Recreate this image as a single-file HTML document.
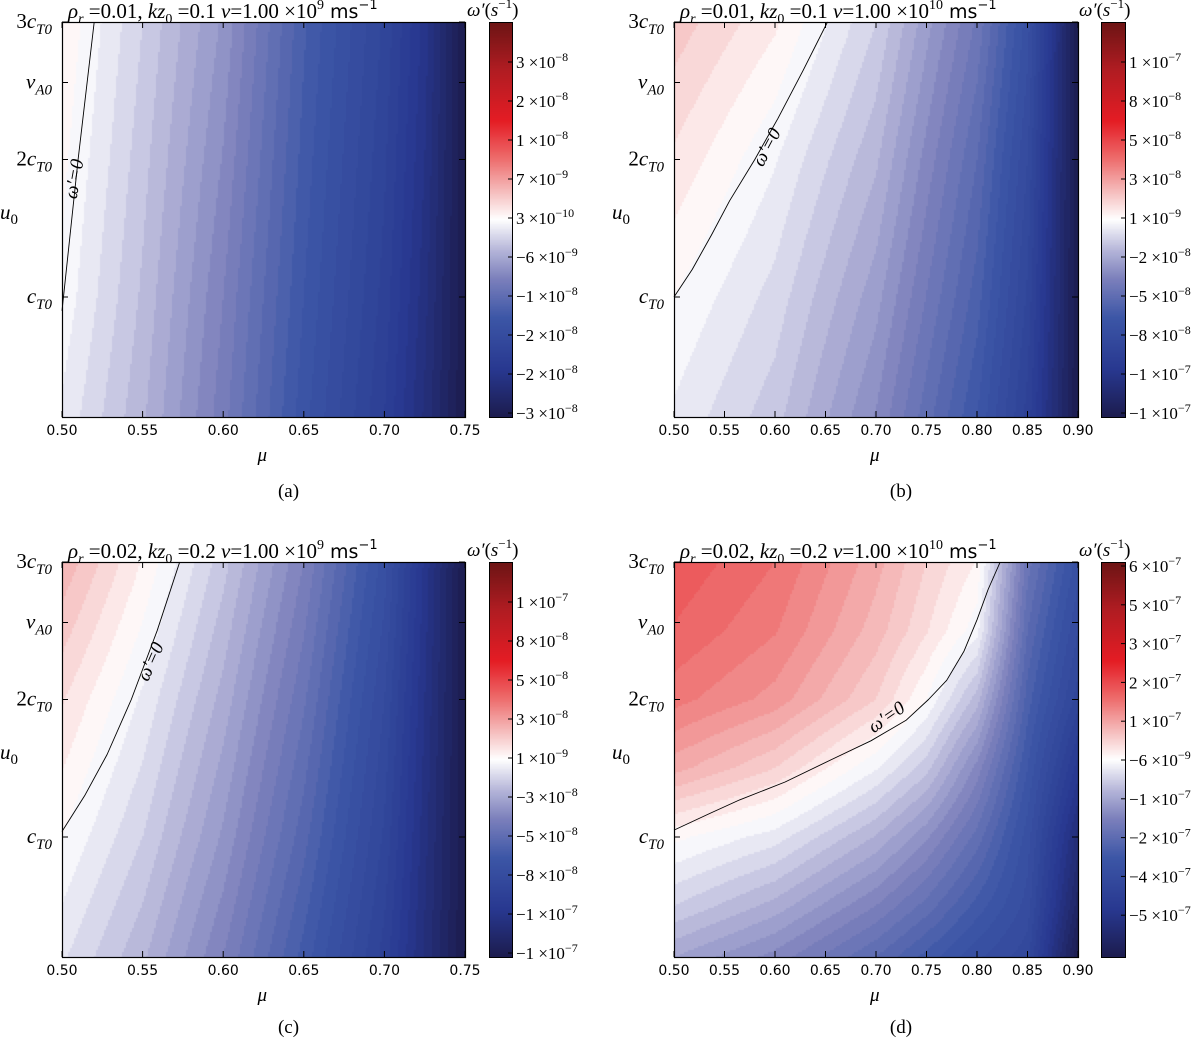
<!DOCTYPE html>
<html><head><meta charset="utf-8">
<style>
html,body{margin:0;padding:0;background:#fff;}
#wrap{position:relative;width:1200px;height:1038px;overflow:hidden;}
canvas{position:absolute;}
svg{position:absolute;left:0;top:0;}
.tk{font-family:"DejaVu Sans","Liberation Sans",sans-serif;font-size:14px;fill:#000;}
.sr{font-family:"Liberation Serif","DejaVu Serif",serif;fill:#000;}
</style></head>
<body>
<div id="wrap">
<svg id="ov" width="1200" height="1038"></svg>
</div>
<script>
// ---------- data ----------
const uRows4 = [3, 2, 1, 0.127];
const uRows7 = [3, 2.5, 2, 1.5, 1, 0.5, 0.127];
const muColsA = [0.50, 0.55, 0.60, 0.65, 0.70, 0.725, 0.75];
const fieldA = [
  [0.03, -0.10, -0.24, -0.46, -0.64, -0.78, -1],
  [0.01, -0.12, -0.27, -0.48, -0.66, -0.80, -1],
  [-0.01, -0.14, -0.30, -0.50, -0.68, -0.82, -1],
  [-0.04, -0.16, -0.32, -0.52, -0.70, -0.84, -1]];
const muColsB = [0.50, 0.60, 0.70, 0.80, 0.85, 0.90];
const fieldB = [
  [0.12, 0.04, -0.10, -0.34, -0.55, -1],
  [0.06, -0.03, -0.16, -0.40, -0.60, -1],
  [0.00, -0.08, -0.22, -0.45, -0.64, -1],
  [-0.04, -0.12, -0.27, -0.50, -0.68, -1]];
const muColsC = [0.50, 0.55, 0.60, 0.65, 0.70, 0.75];
const fieldC = [
  [0.16, 0.03, -0.12, -0.30, -0.55, -1],
  [0.07, -0.04, -0.18, -0.36, -0.60, -1],
  [0.00, -0.10, -0.24, -0.42, -0.64, -1],
  [-0.06, -0.16, -0.30, -0.48, -0.68, -1]];
const muColsD = [0.50, 0.60, 0.70, 0.75, 0.80, 0.85, 0.90];
const fieldD = [
  [0.36, 0.30, 0.18, 0.10, 0.03, -0.35, -0.55],
  [0.33, 0.27, 0.15, 0.07, -0.02, -0.40, -0.60],
  [0.28, 0.22, 0.10, 0.00, -0.15, -0.45, -0.65],
  [0.18, 0.10, -0.03, -0.12, -0.28, -0.50, -0.75],
  [0.01, -0.05, -0.17, -0.26, -0.38, -0.55, -0.85],
  [-0.10, -0.18, -0.30, -0.38, -0.48, -0.58, -0.92],
  [-0.20, -0.28, -0.40, -0.48, -0.56, -0.62, -1]];
const zeroUA = [0.9, 2, 3];      const zeroMuA = [0.50, 0.51, 0.52];
const zeroUB = [1, 1.2, 1.45, 1.7, 2.0, 2.3, 2.65, 3]; const zeroMuB = [0.50, 0.518, 0.537, 0.555, 0.58, 0.603, 0.628, 0.652];
const zeroUC = [1.04, 1.3, 1.6, 2.0, 2.5, 3];    const zeroMuC = [0.50, 0.514, 0.528, 0.543, 0.559, 0.573];
const zeroUD = [1.05, 1.17, 1.27, 1.4, 1.56, 1.7, 1.85, 2.0, 2.14, 2.35, 2.58, 2.8, 3]; const zeroMuD = [0.50, 0.535, 0.565, 0.61, 0.655, 0.695, 0.73, 0.752, 0.77, 0.787, 0.80, 0.811, 0.823];
const xTicksA = [0.50, 0.55, 0.60, 0.65, 0.70, 0.75];
const xTicksB = [0.50, 0.55, 0.60, 0.65, 0.70, 0.75, 0.80, 0.85, 0.90];
const yTickU = [3, 2.56, 2, 1];
const yTickLab = [["3c","T0"],["v","A0"],["2c","T0"],["c","T0"]];
const cbA = [["3","−8"],["2","−8"],["1","−8"],["7","−9"],["3","−10"],["−6","−9"],["−1","−8"],["−2","−8"],["−2","−8"],["−3","−8"]];
const cbB = [["1","−7"],["8","−8"],["5","−8"],["3","−8"],["1","−9"],["−2","−8"],["−5","−8"],["−8","−8"],["−1","−7"],["−1","−7"]];
const cbC = [["1","−7"],["8","−8"],["5","−8"],["3","−8"],["1","−9"],["−3","−8"],["−5","−8"],["−8","−8"],["−1","−7"],["−1","−7"]];
const cbD = [["6","−7"],["5","−7"],["3","−7"],["2","−7"],["1","−7"],["−6","−9"],["−1","−7"],["−2","−7"],["−4","−7"],["−5","−7"]];

// ---------- colormap ----------
const cmT = [0, 0.12, 0.25, 0.35, 0.42, 0.5, 0.58, 0.65, 0.75, 0.88, 1];
const cmC = ["#1c1c4e","#283890","#3c56a6","#7c80bc","#b4b4d8","#ffffff","#f4b4b4","#ee7070","#e41c24","#b01c22","#6c1414"];
function hx(c){return [parseInt(c.substr(1,2),16),parseInt(c.substr(3,2),16),parseInt(c.substr(5,2),16)];}
function cmap(t){
  t=Math.max(0,Math.min(1,t));
  for(let i=0;i<cmT.length-1;i++){
    if(t<=cmT[i+1]){const f=(t-cmT[i])/(cmT[i+1]-cmT[i]);const a=hx(cmC[i]),b=hx(cmC[i+1]);
      return `rgb(${Math.round(a[0]+(b[0]-a[0])*f)},${Math.round(a[1]+(b[1]-a[1])*f)},${Math.round(a[2]+(b[2]-a[2])*f)})`;}
  }
  return cmC[cmC.length-1];
}
const NS="http://www.w3.org/2000/svg";
const ov=document.getElementById('ov');
const wrap=document.getElementById('wrap');
function mk(tag,attrs,parent){const e=document.createElementNS(NS,tag);for(const k in attrs)e.setAttribute(k,attrs[k]);(parent||ov).appendChild(e);return e;}

function interp1(xs,ys,x){
  if(x<=xs[0])return ys[0];
  for(let i=0;i<xs.length-1;i++){if(x<=xs[i+1]){const f=(x-xs[i])/(xs[i+1]-xs[i]);return ys[i]+(ys[i+1]-ys[i])*f;}}
  return ys[ys.length-1];
}
function fieldVal(rows,cols,field,mu,u){
  let r=0; while(r<rows.length-2 && u<rows[r+1]) r++;
  const f=(rows[r]-u)/(rows[r]-rows[r+1]);
  const a=interp1(cols,field[r],mu), b=interp1(cols,field[r+1],mu);
  return a+(b-a)*Math.max(0,Math.min(1,f));
}

function panel(cfg){
  const {x0,y0,w,h,mu0,mu1,rows,cols,field,zu,zmu,xt,cbx,cbw,cbl,cbStart,cbStep,title,sup,labx,laby,rot,capy,id}=cfg;
  const X=mu=>x0+(mu-mu0)/(mu1-mu0)*w;
  const Y=u=>y0+(3-u)*137.5;
  const g=mk('g',{});
  
  
  const cv=document.createElement('canvas');
  cv.width=w;cv.height=h;cv.style.left=x0+'px';cv.style.top=y0+'px';
  
  
  wrap.insertBefore(cv,ov);
  const ctx=cv.getContext('2d');
  const N=30;
  for(let py=0;py<h;py+=2){
    const u=3-(py+1)/137.5;
    for(let px=0;px<w;px+=2){
      const mu=mu0+(px+1)/w*(mu1-mu0);
      const v=fieldVal(rows,cols,field,mu,u);
      const q=(Math.floor(v*N)+0.5)/N;
      ctx.fillStyle=cmap(0.5+0.5*q);
      ctx.fillRect(px,py,2,2);
    }
  }
  const cc=document.createElement('canvas');
  cc.width=cbw;cc.height=h;cc.style.left=cbx+'px';cc.style.top=y0+'px';
  
  
  wrap.insertBefore(cc,ov);
  const c2=cc.getContext('2d');
  for(let py=0;py<h;py++){c2.fillStyle=cmap(1-(py+0.5)/h);c2.fillRect(0,py,cbw,1);}
  mk('rect',{x:cbx+0.5,y:y0+0.5,width:cbw,height:h,fill:'none',stroke:'#000','stroke-width':1},g);
  cbl.forEach((l,i)=>{
    const yy=y0+cbStart+i*cbStep;
    mk('line',{x1:cbx+cbw-4,x2:cbx+cbw,y1:yy,y2:yy,stroke:'#000'},g);
    const t=mk('text',{x:cbx+cbw+4,y:yy+6,class:'sr','font-size':17},g);
    
    
    t.textContent=l[0]+' ×10';
    const s=mk('tspan',{dy:-7,'font-size':12},t); s.textContent=l[1];
  });
  const ct=mk('text',{x:cbx-22,y:y0-6,class:'sr','font-size':19},g);
  
  
  ct.innerHTML='<tspan font-style="italic">ω′</tspan>(<tspan font-style="italic">s</tspan><tspan dy="-8" font-size="13">−1</tspan><tspan dy="8">)</tspan>';
  let pts=zu.map((u,i)=>X(zmu[i]).toFixed(1)+','+Y(u).toFixed(1)).join(' ');
  const pl=mk('polyline',{points:pts,fill:'none',stroke:'#000','stroke-width':0.9,'stroke-linejoin':'round'},g);
  
  
  const zl=mk('text',{x:labx,y:laby,class:'sr','font-size':19,'text-anchor':'middle','font-style':'italic',transform:`rotate(${rot} ${labx} ${laby})`},g);
  
  
  zl.textContent="ω′=0";
  mk('rect',{x:x0+0.5,y:y0+0.5,width:w,height:h,fill:'none',stroke:'#000','stroke-width':1.2},g);
  xt.forEach(m=>{
    const xx=X(m);
    mk('line',{x1:xx,x2:xx,y1:y0+h,y2:y0+h-6,stroke:'#000'},g);
    mk('line',{x1:xx,x2:xx,y1:y0,y2:y0+6,stroke:'#000'},g);
    const t=mk('text',{x:xx,y:y0+h+18,class:'tk','text-anchor':'middle'},g);
    
    
    t.textContent=m.toFixed(2);
  });
  const xa=mk('text',{x:x0+w/2-6,y:y0+h+44,class:'sr','font-size':19,'font-style':'italic'},g);
  
  
  xa.textContent='μ';
  yTickU.forEach((u,i)=>{
    const yy=Y(u);
    mk('line',{x1:x0,x2:x0+6,y1:yy,y2:yy,stroke:'#000'},g);
    mk('line',{x1:x0+w,x2:x0+w-6,y1:yy,y2:yy,stroke:'#000'},g);
    const t=mk('text',{x:x0-10,y:yy+6,class:'sr','font-size':21,'text-anchor':'end'},g);
    
    
    const l=yTickLab[i];
    const m=l[0].match(/^(\d?)(.)$/);
    t.innerHTML=(m[1]?m[1]:'')+'<tspan font-style="italic">'+m[2]+'</tspan><tspan dy="6" font-size="15" font-style="italic">'+l[1]+'</tspan>';
  });
  const ya=mk('text',{x:x0-62,y:y0+197,class:'sr','font-size':21,'font-style':'italic'},g);
  
  
  ya.innerHTML='u<tspan dy="5" font-size="15" font-style="normal">0</tspan>';
  const tt=mk('text',{x:x0+6,y:y0-4,class:'sr','font-size':21},g);
  
  
  tt.innerHTML=`<tspan font-style="italic">ρ</tspan><tspan dy="5" font-size="14" font-style="italic">r</tspan><tspan dy="-5"> =${title[0]}, </tspan><tspan font-style="italic">kz</tspan><tspan dy="5" font-size="14">0</tspan><tspan dy="-5"> =${title[1]} </tspan><tspan font-style="italic">ν</tspan>=1.00 ×10<tspan dy="-9" font-size="14">${sup}</tspan><tspan dy="9" font-family="DejaVu Sans, sans-serif" font-size="19">  ms</tspan><tspan dy="-9" font-family="DejaVu Sans, sans-serif" font-size="13">−1</tspan>`;
  const cp=mk('text',{x:x0+w/2+25,y:capy,class:'sr','font-size':19,'text-anchor':'middle'},g);
  
  
  cp.textContent='('+id+')';
}

panel({id:'a',x0:62,y0:22,w:403,h:395,mu0:0.5,mu1:0.75,rows:uRows4,cols:muColsA,field:fieldA,zu:zeroUA,zmu:zeroMuA,xt:xTicksA,cbx:489,cbw:23,cbl:cbA,cbStart:40,cbStep:39,title:['0.01','0.1'],sup:'9',labx:80,laby:180,rot:-80,capy:497});
panel({id:'b',x0:674,y0:22,w:404,h:395,mu0:0.5,mu1:0.9,rows:uRows4,cols:muColsB,field:fieldB,zu:zeroUB,zmu:zeroMuB,xt:xTicksB,cbx:1101,cbw:24,cbl:cbB,cbStart:40,cbStep:39,title:['0.01','0.1'],sup:'10',labx:772,laby:150,rot:-62,capy:497});
panel({id:'c',x0:62,y0:562,w:403,h:395,mu0:0.5,mu1:0.75,rows:uRows4,cols:muColsC,field:fieldC,zu:zeroUC,zmu:zeroMuC,xt:xTicksA,cbx:489,cbw:23,cbl:cbC,cbStart:40,cbStep:39,title:['0.02','0.2'],sup:'9',labx:156,laby:664,rot:-66,capy:1033});
panel({id:'d',x0:674,y0:562,w:404,h:395,mu0:0.5,mu1:0.9,rows:uRows7,cols:muColsD,field:fieldD,zu:zeroUD,zmu:zeroMuD,xt:xTicksB,cbx:1101,cbw:24,cbl:cbD,cbStart:4,cbStep:38.8,title:['0.02','0.2'],sup:'10',labx:890,laby:722,rot:-35,capy:1033});
</script>
</body></html>
